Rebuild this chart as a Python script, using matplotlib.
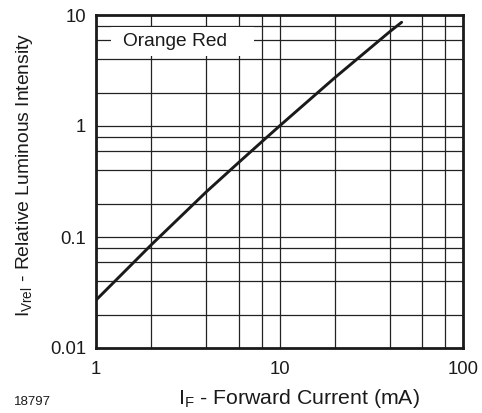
import matplotlib
matplotlib.use("Agg")
import matplotlib.pyplot as plt
from matplotlib.patches import Rectangle
from matplotlib.ticker import FixedLocator, NullLocator, FixedFormatter

plt.rcParams['font.family'] = ['Liberation Sans', 'DejaVu Sans']
plt.rcParams['mathtext.fontset'] = 'custom'
plt.rcParams['mathtext.rm'] = 'Liberation Sans'
plt.rcParams['mathtext.it'] = 'Liberation Sans'

# Relative luminous intensity vs. forward current
forward_current_ma = [1, 2, 4, 6, 8, 10, 20, 40, 46.3]
relative_intensity = [0.027, 0.085, 0.256, 0.47, 0.72, 1.0, 2.72, 7.1, 8.6]

x_major = [1, 10, 100]
x_major_labels = ["1", "10", "100"]
x_grid = [2, 4, 6, 8, 10, 20, 40, 60, 80]
y_major = [0.01, 0.1, 1, 10]
y_major_labels = ["0.01", "0.1", "1", "10"]
y_grid = [0.02, 0.04, 0.06, 0.08, 0.1, 0.2, 0.4, 0.6, 0.8, 1, 2, 4, 6, 8]

series_label = "Orange Red"
figure_id = "18797"

fig = plt.figure(figsize=(4.82, 4.13), dpi=100)
ax = fig.add_axes([96 / 482, 65 / 413, 367 / 482, 333 / 413])

ax.set_xscale('log')
ax.set_yscale('log')
ax.set_xlim(1, 100)
ax.set_ylim(0.01, 10)

for v in x_grid:
    ax.axvline(v, color='#222222', lw=0.9, zorder=1)
for v in y_grid:
    ax.axhline(v, color='#222222', lw=0.9, zorder=1)

ax.plot(forward_current_ma, relative_intensity, color='#1a1a1a', lw=2.1,
        solid_capstyle='round', solid_joinstyle='round', zorder=4)

# white panel behind the series name, interrupting the grid
ax.add_patch(Rectangle((0.041, 0.877), 0.39, 0.087, transform=ax.transAxes,
                       facecolor='white', edgecolor='none', zorder=2))
ax.text(0.0736, 0.919, series_label, transform=ax.transAxes, fontsize=13.8,
        va='center', ha='left', color='#1a1a1a', zorder=3)

ax.xaxis.set_major_locator(FixedLocator(x_major))
ax.xaxis.set_major_formatter(FixedFormatter(x_major_labels))
ax.xaxis.set_minor_locator(NullLocator())
ax.yaxis.set_major_locator(FixedLocator(y_major))
ax.yaxis.set_major_formatter(FixedFormatter(y_major_labels))
ax.yaxis.set_minor_locator(NullLocator())
ax.tick_params(axis='both', which='both', length=0, labelsize=13.3, colors='#1a1a1a')
ax.tick_params(axis='x', pad=9)
ax.tick_params(axis='y', pad=7)

for s in ax.spines.values():
    s.set_linewidth(2.0)
    s.set_color('#1a1a1a')
    s.set_zorder(5)

ax.set_xlabel(r"I$_{\mathrm{F}}$ - Forward Current (mA)", fontsize=15.3,
              color='#1a1a1a', labelpad=10)
ax.xaxis.set_label_coords(0.553, -0.118)
ax.set_ylabel(r"I$_{\mathrm{Vrel}}$ - Relative Luminous Intensity", fontsize=13.9,
              color='#1a1a1a', labelpad=12)
ax.yaxis.set_label_coords(-0.166, 0.52)

fig.text(14 / 482, 1 - 402 / 413, figure_id, fontsize=9.5, color='#1a1a1a',
         ha='left', va='center')

fig.savefig("out.png", dpi=100)
